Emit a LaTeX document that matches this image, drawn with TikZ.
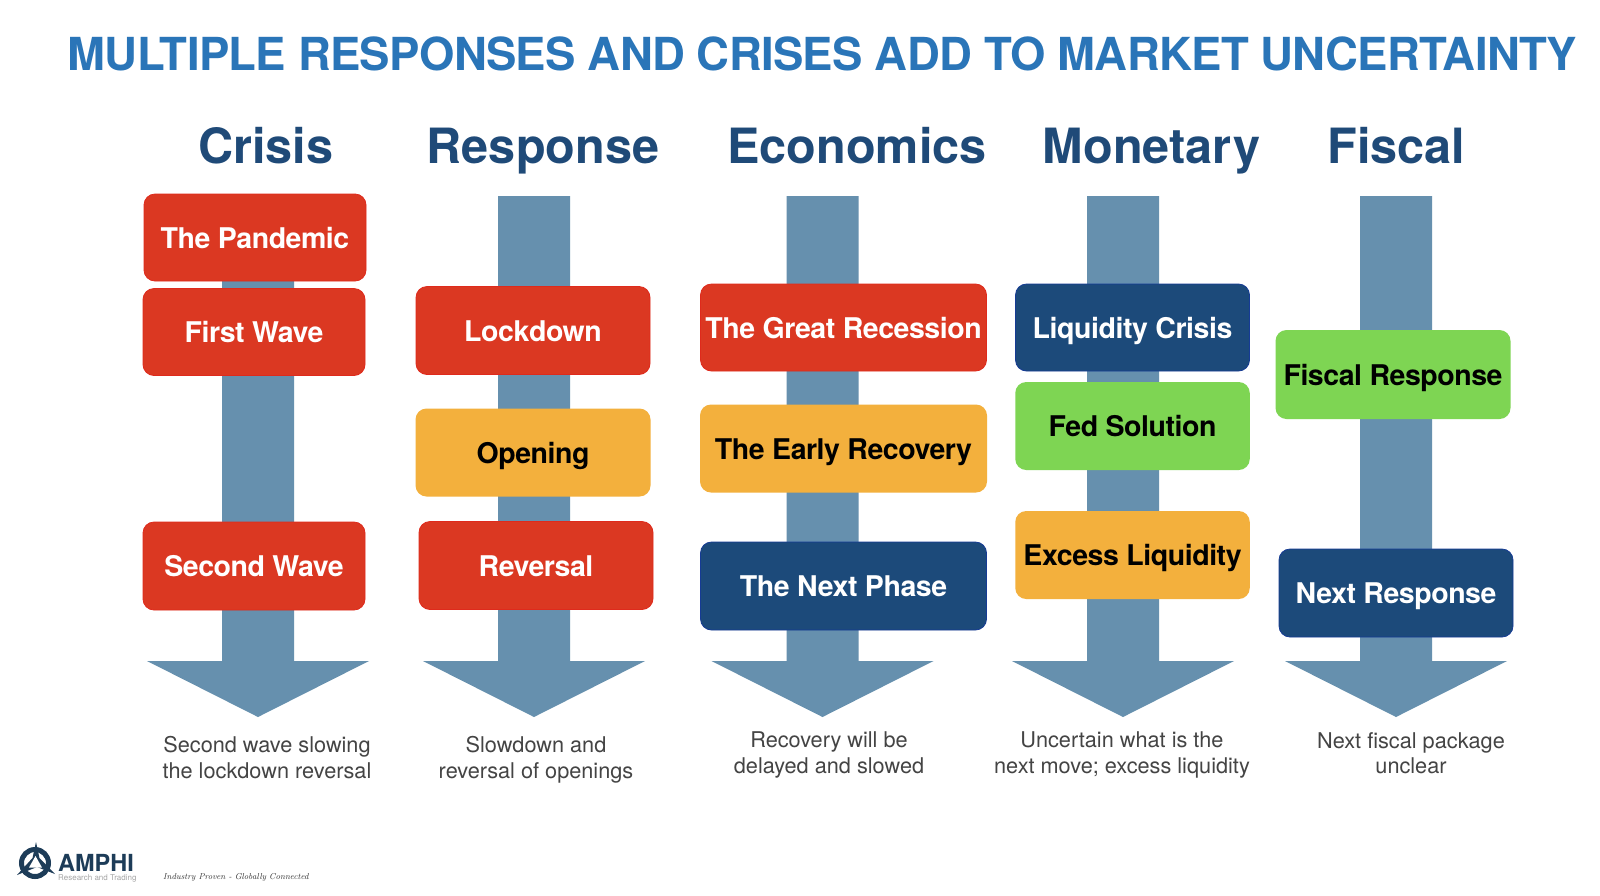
\documentclass[tikz,border=0pt]{standalone}
\usepackage{fontspec}
\setmainfont{TeX Gyre Heros}
\newfontfamily\tagfont{Latin Modern Roman}
\definecolor{redbox}{HTML}{DB3822}
\definecolor{redline}{HTML}{DF2A1C}
\definecolor{navybox}{HTML}{1C4A7A}
\definecolor{orangebox}{HTML}{F3B03D}
\definecolor{greenbox}{HTML}{7ED553}
\definecolor{arrowblue}{HTML}{6690AE}
\definecolor{titleblue}{HTML}{2A75B8}
\definecolor{headblue}{HTML}{1F4A78}
\definecolor{captiongrey}{HTML}{444444}
\definecolor{logonavy}{HTML}{1D3C58}
\tikzset{
  x=1pt,y=-1pt,
  box/.style={rounded corners=11pt,inner sep=0pt,text height=21pt,text depth=0pt,font=\fontsize{28.5}{30}\selectfont\bfseries\addfontfeature{LetterSpace=-1.6}},
  redb/.style={box,fill=redbox,draw=redline,line width=.8pt,text=white},
  navyb/.style={box,fill=navybox,draw=navybox!80!blue,line width=.8pt,text=white},
  orangeb/.style={box,fill=orangebox,text=black},
  greenb/.style={box,fill=greenbox,text=black},
  arrowshape/.style={fill=arrowblue},
  heading/.style={text=headblue,font=\fontsize{48.6}{50}\selectfont\bfseries},
  caption/.style={text=captiongrey,align=center,font=\fontsize{21.7}{25.5}\selectfont},
}
\newcommand{\downarrowshape}[1]{% tip x
  \fill[arrowshape] (#1-36,196) -- (#1+36,196) -- (#1+36,661) -- (#1+111,661) -- (#1,717) -- (#1-111,661) -- (#1-36,661) -- cycle;}
\begin{document}
\begin{tikzpicture}
\useasboundingbox (0,0) rectangle (1600,895);
\fill[white] (0,0) rectangle (1600,895);
\node[anchor=base,text=titleblue,font=\fontsize{45.5}{48}\selectfont\bfseries\addfontfeature{LetterSpace=-1.5}] (title) at (822.5,70) {MULTIPLE RESPONSES AND CRISES ADD TO MARKET UNCERTAINTY};
\node[heading,anchor=base] (h1) at (266,163) {Crisis};
\node[heading,anchor=base] (h2) at (543,163) {Response};
\node[heading,anchor=base] (h3) at (857,163) {Economics};
\node[heading,anchor=base] (h4) at (1151.5,163) {Monetary};
\node[heading,anchor=base] (h5) at (1396.5,163) {Fiscal};
\downarrowshape{258}
\downarrowshape{534}
\downarrowshape{822.5}
\downarrowshape{1123}
\downarrowshape{1396}
\node[redb,minimum width=222pt,minimum height=87pt] (pandemic) at (255,237.5) {The Pandemic};
\node[redb,minimum width=222pt,minimum height=87pt] (first) at (254,332) {First Wave};
\node[redb,minimum width=222pt,minimum height=88pt] (second) at (254,566) {Second Wave};
\node[redb,minimum width=234pt,minimum height=88pt] (lockdown) at (533,330.5) {Lockdown};
\node[orangeb,minimum width=235pt,minimum height=88pt] (opening) at (533,452.5) {Opening};
\node[redb,minimum width=234pt,minimum height=88pt] (reversal) at (536,565.5) {Reversal};
\node[redb,minimum width=286pt,minimum height=87pt] (great) at (843.5,327.5) {The Great Recession};
\node[orangeb,minimum width=287pt,minimum height=88pt] (early) at (843.5,448.5) {The Early Recovery};
\node[navyb,minimum width=286pt,minimum height=88pt] (next) at (843.5,586) {The Next Phase};
\node[navyb,minimum width=234pt,minimum height=87pt] (liq) at (1132.5,327.5) {Liquidity Crisis};
\node[greenb,minimum width=234.5pt,minimum height=88pt] (fed) at (1132.5,426) {Fed Solution};
\node[orangeb,minimum width=234.5pt,minimum height=88pt] (excess) at (1132.5,555) {Excess Liquidity};
\node[greenb,minimum width=235pt,minimum height=89pt] (fiscal) at (1393,374.5) {Fiscal Response};
\node[navyb,minimum width=234pt,minimum height=88pt] (nextr) at (1396,593) {Next Response};
\node[caption] (c1) at (267,757.5) {Second wave slowing\\the lockdown reversal};
\node[caption] (c2) at (536,759.5) {Slowdown and\\reversal of openings};
\node[caption] (c3) at (829,755) {Recovery will be\\delayed and slowed};
\node[caption] (c4) at (1122,755) {Uncertain what is the\\next move; excess liquidity};
\node[caption] (c5) at (1411,753) {Next fiscal package\\unclear};
% logo
\draw[logonavy,line width=5pt] (35,863) circle (13.5);
\fill[logonavy] (36,842) -- (39.5,858) -- (55,874) -- (37,867) -- (17,875) -- (32.5,858) -- cycle;
\fill[white] (35.5,856) -- (42,867.5) -- (29,867.5) -- cycle;
\node[anchor=base west,inner sep=0pt,text=logonavy,font=\fontsize{23.5}{24}\selectfont\bfseries] (amphi) at (58,871) {AMPHI};
\node[anchor=base west,inner sep=0pt,text=gray!70,font=\fontsize{8}{10}\selectfont] (research) at (58,880) {Research and Trading};
\node[anchor=base west,inner sep=0pt,text=black!80,font=\fontsize{8.6}{10}\itshape\tagfont\selectfont] (tag) at (163,879) {Industry Proven - Globally Connected};
\end{tikzpicture}
\end{document}
